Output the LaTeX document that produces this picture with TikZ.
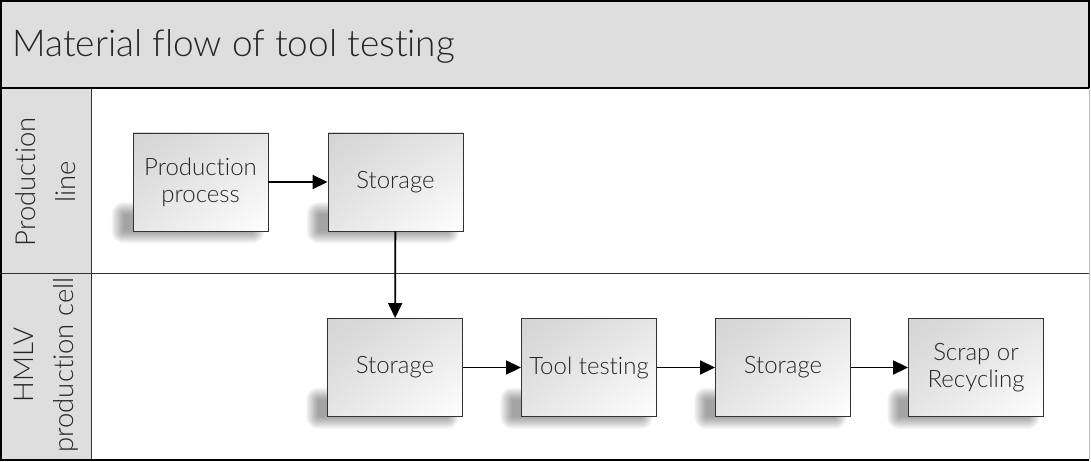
\documentclass[tikz,border=0pt]{standalone}
\usepackage{fontspec}
\setmainfont{Lato}[UprightFont=* Light, Ligatures=NoCommon]
\usetikzlibrary{arrows.meta,shadings,calc}
\definecolor{band}{HTML}{DEDEDE}
\definecolor{txt}{HTML}{262626}
\pgfdeclarelayer{backdrop}
\pgfdeclarelayer{shade}
\pgfsetlayers{backdrop,shade,main}
\tikzset{
  procbox/.style={draw=black!80, line width=0.9pt, minimum width=135pt, minimum height=98pt,
    upper left=black!17, upper right=black!10, lower left=black!10, lower right=white,
    text=txt, align=center, font=\fontsize{24}{27}\selectfont, inner sep=0pt},
  shadowlayer/.style={fill=black, fill opacity=0.032},
  flow/.style={line width=1.8pt, -{Triangle[length=15pt,width=14pt]}},
  lanelabel/.style={rotate=90, align=center, text=txt, font=\fontsize{27.5}{40}\selectfont}
}
\begin{document}
\begin{tikzpicture}[x=1pt,y=-1pt]
\useasboundingbox (0,0) rectangle (1091,462);
% title band, lanes and lane headers
\begin{pgfonlayer}{backdrop}
\fill[white] (1,1) rectangle (1089,460);
\fill[band] (1,1) rectangle (1089,88);
\fill[band] (1,88) rectangle (91,460);
\draw[black!25, line width=1pt] (1089,88) -- (1089,460);
\draw[black!80, line width=0.8pt] (1,273) -- (1089,273);
\draw[black!80, line width=0.8pt] (91,88) -- (91,460);
\draw[black, line width=1.4pt] (1,88) -- (1089,88);
\draw[black, line width=1.4pt] (1089,88) -- (1089,1) -- (1,1) -- (1,460) -- (1089,460);
\end{pgfonlayer}
\node[anchor=west, text=txt, font=\fontsize{37}{44}\selectfont] (title) at (9,46) {Material flow of tool testing};
\node[lanelabel] (lane1) at (46,182) {Production\\line};
\node[lanelabel] (lane2) at (46,365) {HMLV\\production cell};
% process boxes
\node[procbox] (pp) at (200.5,182) {Production\\process};
\node[procbox] (s1) at (395.5,182) {Storage};
\node[procbox] (s2) at (395,367.5) {Storage};
\node[procbox] (tt) at (589,367.5) {Tool testing};
\node[procbox] (s3) at (783,367.5) {Storage};
\node[procbox] (sr) at (976,367.5) {Scrap or\\Recycling};
% soft shadows under the lower part of each box
\begin{pgfonlayer}{shade}
\foreach \b in {pp,s1,s2,tt,s3,sr}
  \foreach \r in {0,1,...,12}
    \fill[shadowlayer, rounded corners=\r pt]
      ($(\b.west)+(-9-\r,32-\r)$) rectangle ($(\b.south east)+(-16+\r,0+\r)$);
\end{pgfonlayer}
% material flow
\draw[flow] (pp) -- (s1);
\draw[flow] (s1) -- (s2);
\draw[flow] (s2) -- (tt);
\draw[flow] (tt) -- (s3);
\draw[flow] (s3) -- (sr);
\end{tikzpicture}
\end{document}
